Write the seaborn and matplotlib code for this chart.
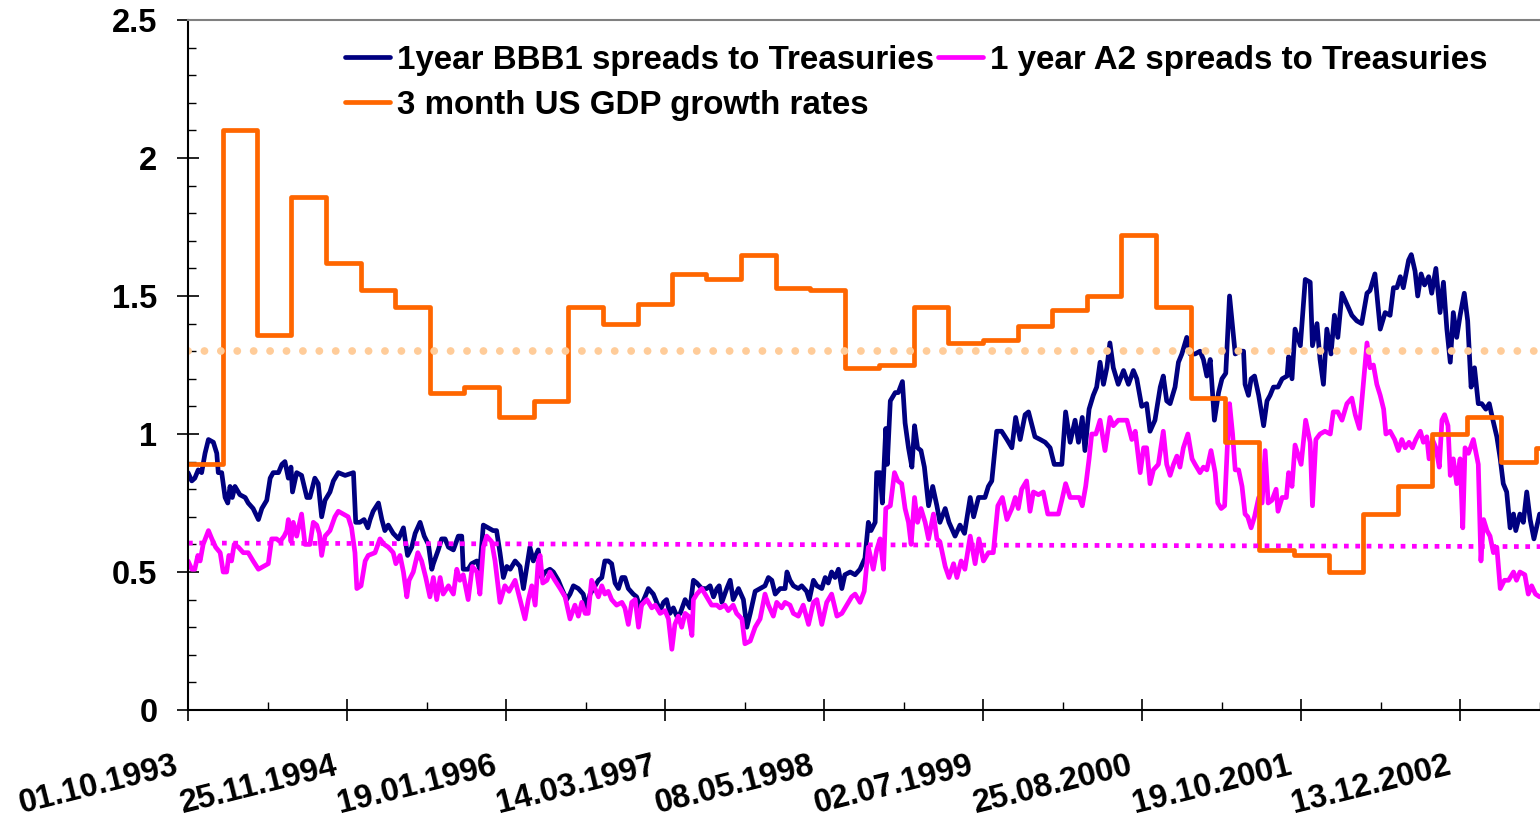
import numpy as np
import pandas as pd
import seaborn as sns
import matplotlib.pyplot as plt
from matplotlib.ticker import MultipleLocator
from matplotlib.transforms import ScaledTranslation

# Series start
start = pd.Timestamp('1993-10-01')

# 1 year BBB1 spreads (days after 01.10.1993)
bbb_days = [0, 10, 18, 27, 36, 45, 54, 67, 76, 80, 89, 98, 105, 111, 117, 124, 137, 151, 159, 172,
            186, 195, 208, 217, 225, 239, 248, 256, 265, 272, 276, 287, 300, 314, 322, 335, 344, 353, 362, 375,
            384, 397, 415, 437, 443, 454, 465, 475, 481, 489, 503, 512, 520, 529, 542, 556, 569, 580, 591, 600,
            613, 624, 635, 644, 648, 661, 670, 679, 688, 701, 714, 723, 727, 740, 749, 763, 771, 780, 793, 806,
            815, 824, 833, 842, 851, 864, 877, 886, 903, 912, 925, 934, 943, 956, 965, 978, 987, 1000, 1009, 1018,
            1031, 1044, 1053, 1062, 1071, 1084, 1093, 1101, 1110, 1119, 1128, 1137, 1146, 1154, 1163, 1176, 1185, 1194, 1207, 1216,
            1229, 1238, 1247, 1256, 1264, 1273, 1282, 1291, 1300, 1313, 1326, 1335, 1344, 1357, 1370, 1379, 1388, 1397, 1403, 1410,
            1423, 1432, 1440, 1454, 1467, 1476, 1485, 1498, 1511, 1524, 1533, 1542, 1551, 1564, 1577, 1582, 1590, 1599, 1612, 1621,
            1634, 1641, 1652, 1661, 1674, 1683, 1691, 1700, 1709, 1718, 1727, 1735, 1749, 1762, 1775, 1788, 1797, 1804, 1815, 1819,
            1828, 1834, 1843, 1847, 1855, 1868, 1876, 1887, 1894, 1903, 1912, 1919, 1927, 1936, 1945, 1956, 1967, 1978, 1986, 2000,
            2010, 2026, 2039, 2051, 2066, 2075, 2088, 2105, 2114, 2123, 2136, 2149, 2163, 2176, 2186, 2198, 2211, 2220, 2237, 2251,
            2264, 2277, 2288, 2308, 2318, 2330, 2343, 2352, 2362, 2369, 2380, 2391, 2400, 2409, 2418, 2427, 2435, 2444, 2457, 2471,
            2484, 2497, 2506, 2519, 2532, 2541, 2554, 2568, 2576, 2585, 2594, 2607, 2616, 2625, 2638, 2647, 2660, 2673, 2682, 2691,
            2700, 2711, 2722, 2731, 2741, 2751, 2759, 2766, 2779, 2788, 2792, 2801, 2808, 2817, 2828, 2841, 2850, 2858, 2867, 2879,
            2890, 2903, 2907, 2916, 2924, 2938, 2951, 2964, 2970, 2982, 2990, 2999, 3008, 3019, 3028, 3037, 3048, 3061, 3074, 3087,
            3100, 3114, 3122, 3135, 3149, 3162, 3175, 3184, 3193, 3202, 3210, 3224, 3231, 3241, 3248, 3257, 3266, 3277, 3285, 3296,
            3307, 3316, 3325, 3334, 3342, 3351, 3360, 3371, 3380, 3389, 3398, 3408, 3417, 3428, 3437, 3445, 3457, 3466, 3474, 3483,
            3492, 3501, 3507, 3518, 3527, 3536, 3545, 3555, 3570]
bbb_vals = [0.86, 0.83, 0.84, 0.87, 0.86, 0.93, 0.98, 0.97, 0.93, 0.86, 0.86, 0.77, 0.75, 0.81, 0.77, 0.81, 0.78, 0.77, 0.75, 0.73,
            0.69, 0.73, 0.76, 0.84, 0.86, 0.86, 0.89, 0.90, 0.84, 0.88, 0.79, 0.86, 0.85, 0.77, 0.77, 0.84, 0.82, 0.70, 0.76, 0.79,
            0.83, 0.86, 0.85, 0.86, 0.68, 0.68, 0.69, 0.66, 0.69, 0.72, 0.75, 0.69, 0.65, 0.67, 0.64, 0.62, 0.66, 0.56, 0.59, 0.64,
            0.68, 0.63, 0.60, 0.51, 0.53, 0.58, 0.62, 0.62, 0.59, 0.58, 0.63, 0.63, 0.51, 0.51, 0.53, 0.54, 0.51, 0.67, 0.66, 0.65,
            0.65, 0.57, 0.48, 0.52, 0.51, 0.54, 0.52, 0.44, 0.59, 0.54, 0.58, 0.48, 0.50, 0.51, 0.50, 0.47, 0.44, 0.40, 0.42, 0.45,
            0.44, 0.42, 0.37, 0.42, 0.44, 0.47, 0.48, 0.54, 0.54, 0.53, 0.46, 0.44, 0.48, 0.48, 0.44, 0.42, 0.41, 0.37, 0.41, 0.44,
            0.42, 0.39, 0.36, 0.39, 0.40, 0.35, 0.37, 0.34, 0.35, 0.40, 0.37, 0.47, 0.46, 0.44, 0.44, 0.45, 0.41, 0.44, 0.45, 0.39,
            0.44, 0.47, 0.40, 0.44, 0.40, 0.30, 0.35, 0.43, 0.44, 0.45, 0.48, 0.47, 0.42, 0.44, 0.44, 0.50, 0.47, 0.45, 0.44, 0.45,
            0.43, 0.40, 0.47, 0.45, 0.44, 0.48, 0.46, 0.50, 0.48, 0.51, 0.44, 0.49, 0.50, 0.49, 0.51, 0.55, 0.68, 0.65, 0.68, 0.86,
            0.86, 0.75, 1.02, 0.89, 1.12, 1.15, 1.15, 1.19, 1.04, 0.95, 0.88, 1.03, 0.95, 0.94, 0.88, 0.74, 0.81, 0.74, 0.68, 0.73,
            0.68, 0.63, 0.67, 0.64, 0.77, 0.70, 0.77, 0.77, 0.81, 0.83, 1.01, 1.01, 0.98, 0.95, 1.06, 0.98, 1.07, 1.08, 0.99, 0.98,
            0.97, 0.95, 0.89, 0.89, 1.08, 0.97, 1.05, 0.97, 1.06, 0.94, 1.09, 1.14, 1.17, 1.26, 1.18, 1.24, 1.33, 1.24, 1.18, 1.23,
            1.18, 1.23, 1.20, 1.10, 1.11, 1.01, 1.05, 1.17, 1.21, 1.12, 1.11, 1.17, 1.26, 1.29, 1.35, 1.29, 1.29, 1.30, 1.27, 1.21,
            1.27, 1.05, 1.15, 1.20, 1.22, 1.50, 1.39, 1.29, 1.30, 1.30, 1.18, 1.14, 1.20, 1.21, 1.14, 1.03, 1.12, 1.14, 1.17, 1.17,
            1.20, 1.21, 1.28, 1.20, 1.38, 1.32, 1.56, 1.55, 1.32, 1.40, 1.27, 1.18, 1.38, 1.29, 1.43, 1.35, 1.51, 1.47, 1.43, 1.41,
            1.40, 1.51, 1.52, 1.58, 1.38, 1.44, 1.43, 1.53, 1.53, 1.57, 1.53, 1.63, 1.65, 1.59, 1.50, 1.58, 1.54, 1.57, 1.51, 1.60,
            1.44, 1.55, 1.38, 1.26, 1.44, 1.35, 1.43, 1.51, 1.41, 1.17, 1.24, 1.11, 1.11, 1.09, 1.11, 1.06, 0.99, 0.91, 0.82, 0.79,
            0.66, 0.71, 0.65, 0.71, 0.68, 0.79, 0.69, 0.62, 0.71]

# 1 year A2 spreads
a2_days = [0, 10, 18, 26, 32, 40, 54, 63, 73, 85, 93, 102, 108, 115, 122, 133, 146, 159, 172, 186,
           199, 212, 221, 234, 243, 254, 261, 265, 272, 278, 287, 300, 309, 322, 331, 340, 347, 353, 362, 375,
           388, 397, 410, 423, 432, 441, 446, 457, 468, 476, 494, 507, 518, 529, 542, 549, 560, 569, 578, 584,
           595, 607, 617, 628, 639, 648, 657, 666, 674, 688, 701, 710, 718, 727, 740, 751, 763, 771, 780, 789,
           802, 811, 824, 837, 848, 864, 877, 890, 899, 908, 917, 925, 930, 937, 948, 956, 969, 983, 996, 1009,
           1022, 1031, 1040, 1049, 1057, 1066, 1075, 1084, 1093, 1101, 1110, 1119, 1132, 1146, 1154, 1163, 1172, 1181, 1190, 1198,
           1212, 1225, 1234, 1247, 1260, 1269, 1278, 1286, 1295, 1304, 1313, 1322, 1331, 1335, 1344, 1357, 1370, 1383, 1397, 1405,
           1418, 1427, 1440, 1449, 1463, 1471, 1485, 1498, 1511, 1524, 1533, 1546, 1555, 1568, 1577, 1590, 1599, 1612, 1625, 1639,
           1652, 1661, 1674, 1687, 1700, 1714, 1727, 1740, 1753, 1762, 1775, 1786, 1797, 1810, 1819, 1828, 1837, 1843, 1855, 1866,
           1875, 1885, 1894, 1903, 1910, 1919, 1927, 1936, 1947, 1956, 1969, 1978, 1986, 2000, 2010, 2022, 2031, 2042, 2052, 2066,
           2079, 2089, 2101, 2114, 2127, 2139, 2151, 2163, 2176, 2185, 2193, 2202, 2215, 2224, 2233, 2246, 2259, 2271, 2286, 2299,
           2308, 2318, 2330, 2343, 2354, 2362, 2371, 2380, 2387, 2398, 2409, 2422, 2435, 2444, 2457, 2471, 2480, 2493, 2502, 2515,
           2524, 2532, 2541, 2550, 2563, 2576, 2585, 2594, 2603, 2612, 2620, 2629, 2641, 2652, 2660, 2673, 2682, 2691, 2702, 2713,
           2720, 2729, 2738, 2745, 2751, 2759, 2766, 2775, 2784, 2792, 2799, 2808, 2817, 2828, 2837, 2845, 2853, 2863, 2874, 2879,
           2890, 2901, 2907, 2916, 2924, 2940, 2952, 2964, 2970, 2979, 2990, 3003, 3017, 3025, 3037, 3048, 3061, 3074, 3083, 3094,
           3105, 3114, 3122, 3131, 3140, 3149, 3158, 3164, 3175, 3187, 3197, 3206, 3215, 3225, 3234, 3243, 3255, 3263, 3272, 3278,
           3287, 3296, 3305, 3312, 3319, 3328, 3334, 3342, 3351, 3360, 3367, 3373, 3382, 3395, 3408, 3415, 3422, 3431, 3439, 3448,
           3457, 3466, 3477, 3488, 3501, 3509, 3518, 3531, 3540, 3549, 3559, 3570]
a2_vals = [0.54, 0.51, 0.51, 0.56, 0.54, 0.60, 0.65, 0.62, 0.59, 0.57, 0.50, 0.50, 0.56, 0.54, 0.60, 0.59, 0.57, 0.57, 0.54, 0.51,
           0.52, 0.53, 0.62, 0.62, 0.61, 0.63, 0.65, 0.69, 0.61, 0.68, 0.63, 0.71, 0.60, 0.60, 0.68, 0.67, 0.64, 0.56, 0.63, 0.65,
           0.70, 0.72, 0.71, 0.70, 0.66, 0.57, 0.44, 0.45, 0.54, 0.56, 0.57, 0.62, 0.60, 0.59, 0.57, 0.53, 0.56, 0.50, 0.41, 0.47,
           0.50, 0.57, 0.54, 0.48, 0.41, 0.48, 0.40, 0.48, 0.42, 0.45, 0.42, 0.51, 0.47, 0.49, 0.40, 0.52, 0.50, 0.42, 0.59, 0.63,
           0.61, 0.54, 0.39, 0.45, 0.43, 0.47, 0.40, 0.33, 0.40, 0.45, 0.38, 0.54, 0.56, 0.46, 0.47, 0.50, 0.47, 0.44, 0.41, 0.33,
           0.38, 0.34, 0.39, 0.35, 0.35, 0.47, 0.44, 0.41, 0.45, 0.42, 0.43, 0.40, 0.38, 0.39, 0.37, 0.31, 0.39, 0.40, 0.30, 0.38,
           0.40, 0.37, 0.38, 0.35, 0.36, 0.33, 0.22, 0.31, 0.34, 0.30, 0.35, 0.34, 0.27, 0.40, 0.42, 0.44, 0.41, 0.38, 0.38, 0.37,
           0.38, 0.36, 0.38, 0.35, 0.33, 0.24, 0.25, 0.30, 0.33, 0.42, 0.38, 0.34, 0.39, 0.37, 0.39, 0.38, 0.35, 0.34, 0.38, 0.31,
           0.39, 0.40, 0.31, 0.39, 0.42, 0.34, 0.35, 0.38, 0.41, 0.42, 0.39, 0.43, 0.59, 0.51, 0.58, 0.62, 0.51, 0.73, 0.74, 0.86,
           0.83, 0.82, 0.73, 0.68, 0.60, 0.77, 0.68, 0.73, 0.68, 0.62, 0.71, 0.62, 0.61, 0.52, 0.48, 0.53, 0.48, 0.54, 0.51, 0.63,
           0.53, 0.62, 0.54, 0.57, 0.57, 0.74, 0.77, 0.69, 0.73, 0.77, 0.73, 0.80, 0.83, 0.72, 0.79, 0.78, 0.79, 0.71, 0.71, 0.71,
           0.76, 0.82, 0.77, 0.77, 0.77, 0.74, 0.81, 0.91, 1.00, 1.00, 1.05, 0.94, 1.06, 1.03, 1.05, 1.05, 1.05, 0.98, 1.01, 0.86,
           0.95, 0.95, 0.82, 0.87, 0.89, 1.01, 0.89, 0.85, 0.89, 0.92, 0.88, 0.95, 1.00, 0.91, 0.89, 0.86, 0.88, 0.87, 0.94, 0.86,
           0.75, 0.73, 0.74, 0.95, 1.11, 1.00, 0.87, 0.87, 0.81, 0.71, 0.70, 0.66, 0.70, 0.77, 0.75, 0.94, 0.75, 0.76, 0.80, 0.72,
           0.77, 0.77, 0.86, 0.81, 0.96, 0.89, 1.05, 0.97, 0.74, 0.98, 1.00, 1.01, 1.00, 1.08, 1.08, 1.05, 1.11, 1.13, 1.07, 1.02,
           1.19, 1.33, 1.24, 1.25, 1.18, 1.14, 1.09, 1.00, 1.01, 0.98, 0.94, 0.98, 0.95, 0.97, 0.95, 0.98, 1.01, 0.97, 0.99, 0.91,
           0.98, 0.95, 0.88, 1.05, 1.07, 1.03, 0.85, 0.91, 0.82, 0.91, 0.66, 0.95, 0.93, 0.98, 0.89, 0.54, 0.69, 0.65, 0.63, 0.57,
           0.59, 0.44, 0.47, 0.47, 0.50, 0.47, 0.50, 0.49, 0.42, 0.45, 0.42, 0.41]

# 3 month US GDP growth rates (quarterly, held until next release)
gdp_dates = ['1993-10-01', '1994-01-01', '1994-04-01', '1994-07-01', '1994-10-01', '1995-01-01', '1995-04-01',
             '1995-07-01', '1995-10-01', '1996-01-01', '1996-04-01', '1996-07-01', '1996-10-01', '1997-01-01',
             '1997-04-01', '1997-07-01', '1997-10-01', '1998-01-01', '1998-04-01', '1998-07-01', '1998-10-01',
             '1999-01-01', '1999-04-01', '1999-07-01', '1999-10-01', '2000-01-01', '2000-04-01', '2000-07-01',
             '2000-10-01', '2001-01-01', '2001-04-01', '2001-07-01', '2001-10-01', '2002-01-01', '2002-04-01',
             '2002-07-01', '2002-10-01', '2003-01-01', '2003-04-01', '2003-07-01', '2003-07-11']
gdp_vals = [0.89, 2.10, 1.36, 1.86, 1.62, 1.52, 1.46, 1.15, 1.17, 1.06, 1.12, 1.46, 1.40, 1.47, 1.58, 1.56, 1.65,
            1.53, 1.52, 1.24, 1.25, 1.46, 1.33, 1.34, 1.39, 1.45, 1.50, 1.72, 1.46, 1.13, 0.97, 0.58, 0.56, 0.50,
            0.71, 0.81, 1.00, 1.06, 0.90, 0.95, 0.95]

# dotted reference levels (start, end)
gdp_ref = [1.30, 1.30]
a2_ref = [0.605, 0.592]

tick_labels = ['01.10.1993', '25.11.1994', '19.01.1996', '14.03.1997', '08.05.1998',
               '02.07.1999', '25.08.2000', '19.10.2001', '13.12.2002']

sns.set_theme(style='white')
plt.rcParams['font.family'] = ['Liberation Sans', 'DejaVu Sans']
plt.rcParams['font.weight'] = 'bold'
plt.rcParams['text.color'] = 'black'

bbb = pd.DataFrame({'date': start + pd.to_timedelta(bbb_days, unit='D'), 'value': bbb_vals})
a2 = pd.DataFrame({'date': start + pd.to_timedelta(a2_days, unit='D'), 'value': a2_vals})
gdp = pd.DataFrame({'date': pd.to_datetime(gdp_dates), 'value': gdp_vals})

major = pd.to_datetime(tick_labels, format='%d.%m.%Y')
minor = major + pd.Timedelta(days=210)
x_end = minor[-1] + pd.Timedelta(days=1)

fig = plt.figure(figsize=(15.4, 8.17), dpi=100)
ax = fig.add_axes([188 / 1540, 107 / 817, 1 - 188 / 1540, 690 / 817])

sns.lineplot(data=bbb, x='date', y='value', ax=ax, color='#000080', lw=3.4,
             label='1year BBB1 spreads to Treasuries')
sns.lineplot(data=a2, x='date', y='value', ax=ax, color='#FF00FF', lw=3.4,
             label='1 year A2 spreads to Treasuries')
sns.lineplot(data=gdp, x='date', y='value', ax=ax, color='#FF6600', lw=3.4,
             drawstyle='steps-post', label='3 month US GDP growth rates')

ends = [start, x_end]
ax.plot(ends, gdp_ref, color='#FFCC99', lw=5.6, linestyle=(0, (0.01, 2.1)),
        dash_capstyle='round')
ax.plot(ends, a2_ref, color='#FF00FF', lw=3.4, linestyle=(0, (1, 1.4)),
        dash_capstyle='butt')

ax.set_xlim(start, x_end)
ax.set_ylim(0, 2.5)
ax.set_xlabel('')
ax.set_ylabel('')

ax.set_xticks(major)
ax.set_xticklabels(tick_labels, rotation=14, ha='right', va='top', rotation_mode='anchor')
ax.set_xticks(minor, minor=True)
ax.set_yticks([0, 0.5, 1, 1.5, 2, 2.5])
ax.set_yticklabels(['0', '0.5', '1', '1.5', '2', '2.5'])
ax.yaxis.set_minor_locator(MultipleLocator(0.1))

ax.tick_params(which='major', direction='inout', length=16, width=1.2, colors='black',
               labelsize=23.5, bottom=True, left=True)
ax.tick_params(which='minor', direction='in', length=6, width=1, colors='black',
               bottom=True, left=True)
ax.tick_params(axis='y', which='major', pad=14)
ax.tick_params(axis='x', which='major', pad=21)
shift = ScaledTranslation(-14 / 100, 0, fig.dpi_scale_trans)
for lab in ax.get_xticklabels():
    lab.set_transform(lab.get_transform() + shift)
    lab.set_fontweight('bold')
for lab in ax.get_yticklabels():
    lab.set_fontweight('bold')

ax.spines['right'].set_visible(False)
ax.spines['top'].set_color('#808080')
ax.spines['top'].set_linewidth(1.5)
for s in ['left', 'bottom']:
    ax.spines[s].set_color('black')
    ax.spines[s].set_linewidth(1.5)
ax.grid(False)

handles, labels = ax.get_legend_handles_labels()
order = [0, 2, 1]
leg = ax.legend([handles[i] for i in order], [labels[i] for i in order], ncol=2,
                loc='upper left', bbox_to_anchor=(345 / 1540, 1 - 45 / 817),
                bbox_transform=fig.transFigure, frameon=False, borderpad=0, borderaxespad=0,
                handlelength=1.35, handletextpad=0.22, columnspacing=0.12, labelspacing=0.42,
                prop={'size': 23.9, 'weight': 'bold'})
for t in leg.get_texts():
    t.set_color('black')

fig.savefig('out.png', dpi=100)
